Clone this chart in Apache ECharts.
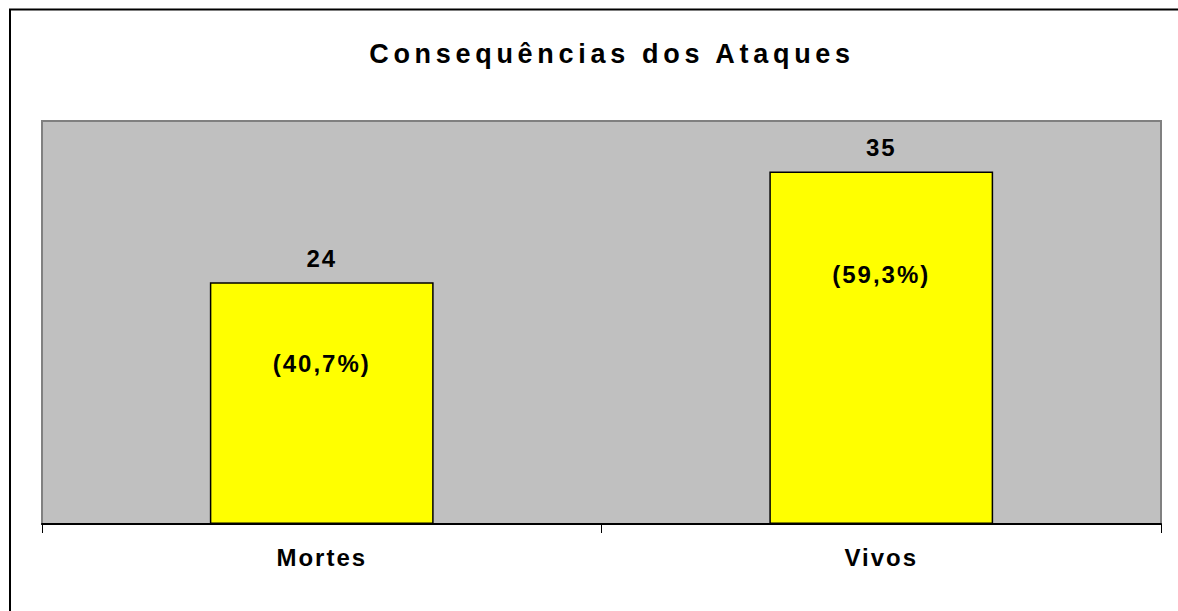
<!DOCTYPE html>
<html>
<head>
<meta charset="utf-8">
<script src="https://cdn.jsdelivr.net/npm/echarts@6.0.0/dist/echarts.min.js"></script>
<style>
  html, body { margin: 0; padding: 0; background: #fff; }
  #chart { width: 1178px; height: 611px; }
  /* spaced lettering like the original spreadsheet chart */
  #chart text { letter-spacing: 2px; }
  #chart text[style*="Helvetica"] { letter-spacing: 4.7px; }
</style>
</head>
<body>
<div id="chart"></div>
<script>
// data
const categories = ['Mortes', 'Vivos'];
const values = [24, 35];
const shares = ['(40,7%)', '(59,3%)'];

// label placement inside each bar (px below the bar top)
const shareDistance = [69, 91];

const labelFont = {
  fontFamily: 'Liberation Sans, Arial, sans-serif',
  fontSize: 24,
  fontWeight: 'bold',
  color: '#000',
};

const chart = echarts.init(document.getElementById('chart'), null, { renderer: 'svg' });

const option = {
  animation: false,
  title: {
    text: 'Consequências dos Ataques',
    left: 612,
    top: 40,
    textAlign: 'center',
    padding: 0,
    textStyle: {
      fontFamily: 'Liberation Sans, Helvetica',
      fontSize: 27,
      fontWeight: 'bold',
      color: '#000',
    },
  },
  graphic: [
    {
      type: 'rect',
      silent: true,
      shape: { x: 10, y: 9.5, width: 1300, height: 800 },
      style: { fill: 'none', stroke: '#000', lineWidth: 2 },
    },
  ],
  grid: {
    left: 42,
    top: 121,
    right: 17,
    bottom: 87,
    outerBoundsMode: 'none',
    show: true,
    backgroundColor: '#c0c0c0',
    borderColor: '#808080',
    borderWidth: 2,
  },
  xAxis: {
    type: 'category',
    data: categories,
    axisLine: { lineStyle: { color: '#000', width: 2 } },
    axisTick: { show: true, length: 9, lineStyle: { color: '#000', width: 1 } },
    axisLabel: Object.assign({ margin: 21 }, labelFont),
    splitLine: { show: false },
  },
  yAxis: {
    type: 'value',
    min: 0,
    max: 40,
    show: false,
  },
  series: [
    {
      type: 'bar',
      data: values,
      barWidth: '40%',
      barGap: '-100%',
      silent: true,
      itemStyle: { color: '#ffff00', borderColor: '#000', borderWidth: 1.5 },
      label: Object.assign({ show: true, position: 'top', distance: 12 }, labelFont),
    },
    {
      type: 'bar',
      data: values.map((v, i) => ({ value: v, label: { distance: shareDistance[i] } })),
      barWidth: '40%',
      barGap: '-100%',
      silent: true,
      itemStyle: { color: 'transparent' },
      label: Object.assign(
        {
          show: true,
          position: 'insideTop',
          formatter: (p) => shares[p.dataIndex],
        },
        labelFont
      ),
    },
  ],
};
chart.setOption(option);
</script>
</body>
</html>
